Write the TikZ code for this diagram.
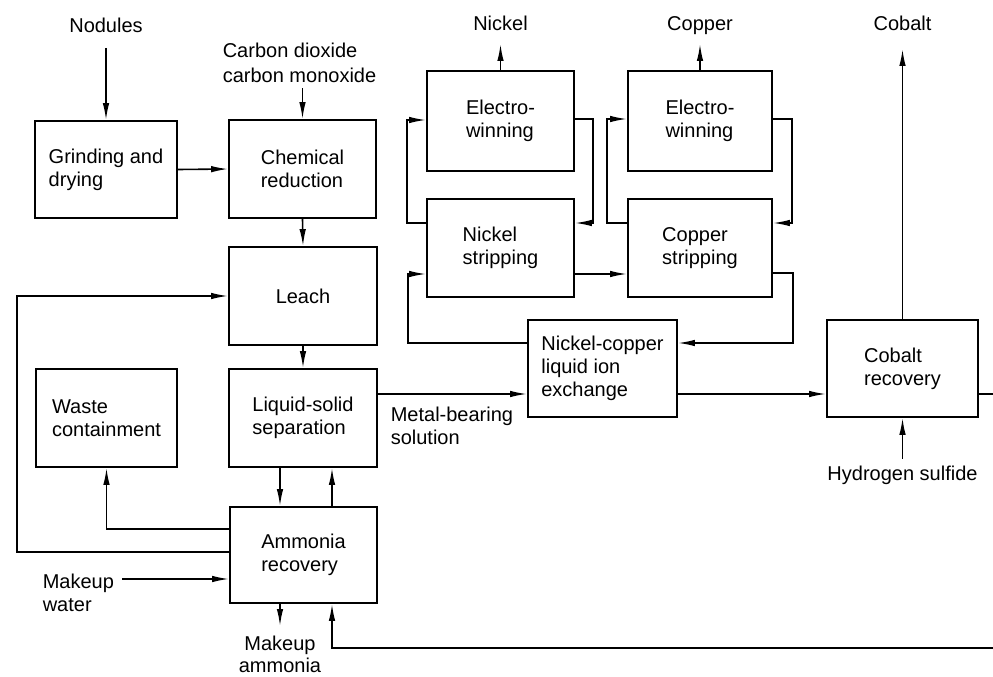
\documentclass[tikz,border=0pt]{standalone}
\usepackage{fontspec}
\setmainfont{Liberation Sans}
\usetikzlibrary{arrows.meta}
\begin{document}
\begin{tikzpicture}[x=1pt,y=-1pt,
  line width=1.6pt,
  box/.style={draw, line width=1.7pt, inner sep=0pt, align=left, font=\fontsize{20}{23}\selectfont},
  lbl/.style={inner sep=0pt, font=\fontsize{20}{23}\selectfont},
  arr/.style={-{Latex[length=17pt,width=6.5pt]}},
]
\useasboundingbox (0,0) rectangle (993,677);
% boxes
\node[box, minimum width=142pt, minimum height=97pt] (gd) at (106,169.5) {Grinding and\\drying};
\node[box, minimum width=147pt, minimum height=98pt] (cr) at (302.5,169) {Chemical\\reduction};
\node[box, minimum width=148pt, minimum height=98pt] (leach) at (303,296) {Leach};
\node[box, minimum width=148pt, minimum height=98pt] (ls) at (303,418) {Liquid-solid\\separation};
\node[box, minimum width=141pt, minimum height=98pt] (wc) at (106.5,418) {Waste\\containment};
\node[box, minimum width=147pt, minimum height=96pt] (ar) at (303.5,555) {Ammonia\\recovery};
\node[box, minimum width=147pt, minimum height=100pt] (ewn) at (500.5,121) {Electro-\\winning};
\node[box, minimum width=147pt, minimum height=98pt] (nis) at (500.5,248) {Nickel\\stripping};
\node[box, minimum width=144pt, minimum height=100pt] (ewc) at (700,121) {Electro-\\winning};
\node[box, minimum width=144pt, minimum height=98pt] (cus) at (700,248) {Copper\\stripping};
\node[box, minimum width=149pt, minimum height=97pt] (nc) at (602.5,368.5) {Nickel-copper\\liquid ion\\exchange};
\node[box, minimum width=151pt, minimum height=97pt] (co) at (902.5,368.5) {Cobalt\\recovery};
% labels
\node[lbl, anchor=base] (nod) at (106,33) {Nodules};
\node[lbl, anchor=north west, align=left, font=\fontsize{20}{25}\selectfont] (co2) at (222,42) {Carbon dioxide\\carbon monoxide};
\node[lbl, anchor=base] (nic) at (500.5,31) {Nickel};
\node[lbl, anchor=base] (cop) at (700,31) {Copper};
\node[lbl, anchor=base] (cob) at (902.5,31) {Cobalt};
\node[lbl, anchor=base] (h2s) at (902.5,480) {Hydrogen sulfide};
\node[lbl, anchor=north west, align=left] (mb) at (390,406) {Metal-bearing\\solution};
\node[lbl, anchor=north west, align=left] (mw) at (42,573) {Makeup\\water};
\node[lbl, anchor=north, align=center, font=\fontsize{20}{22}\selectfont] (ma) at (280,635) {Makeup\\ammonia};
\coordinate (mwend) at (122,579);
% connectors
\draw[arr] ([yshift=-14pt]nod.south) -- (gd.north);
\draw[arr] (cr.north |- 0,88) -- (cr.north);
\draw[arr] (gd.east) -- (cr.west);
\draw[arr] (cr.south) -- (leach.north);
\draw[arr] (leach.south) -- (ls.north);
\draw[arr] (ls.south -| 280,0) -- (ar.north -| 280,0);
\draw[arr] (ar.north -| 332,0) -- (ls.south -| 332,0);
\draw[arr] (ar.west |- 0,529) -| (wc.south);
\draw[arr] (ar.west |- 0,552) -- (17,552) |- (leach.west);
\draw[arr] (mwend) -- (ar.west |- mwend);
\draw[arr] (ar.south -| 280,0) -- ([yshift=9pt]ma.north);
\draw[arr] (co.east |- 0,394) -- (996,394) -- (996,648) -| (ar.south -| 332,0);
\draw[arr] (ls.east |- 0,394) -- (nc.west |- 0,394);
\draw[arr] (nc.east |- 0,394) -- (co.west |- 0,394);
\draw[arr] (co.north) -- ([yshift=-17pt]cob.south);
\draw[arr] ([yshift=6pt]h2s.north) -- (co.south);
\draw[arr] (nc.west |- 0,343) -| (408,274) -- (nis.west |- 0,274);
\draw[arr] (cus.east |- 0,273) -| (793,343) -- (nc.east |- 0,343);
\draw[arr] (nis.east |- 0,274) -- (cus.west |- 0,274);
\draw[arr] (nis.west |- 0,223) -| (407,120) -- (ewn.west |- 0,120);
\draw[arr] (ewn.east |- 0,119) -| (593,223) -- (nis.east |- 0,223);
\draw[arr] (cus.west |- 0,223) -| (607,119) -- (ewc.west |- 0,119);
\draw[arr] (ewc.east |- 0,119) -| (792,223) -- (cus.east |- 0,223);
\draw[arr] (ewn.north) -- ([yshift=-12pt]nic.south);
\draw[arr] (ewc.north) -- ([yshift=-8pt]cop.south);
\end{tikzpicture}
\end{document}
